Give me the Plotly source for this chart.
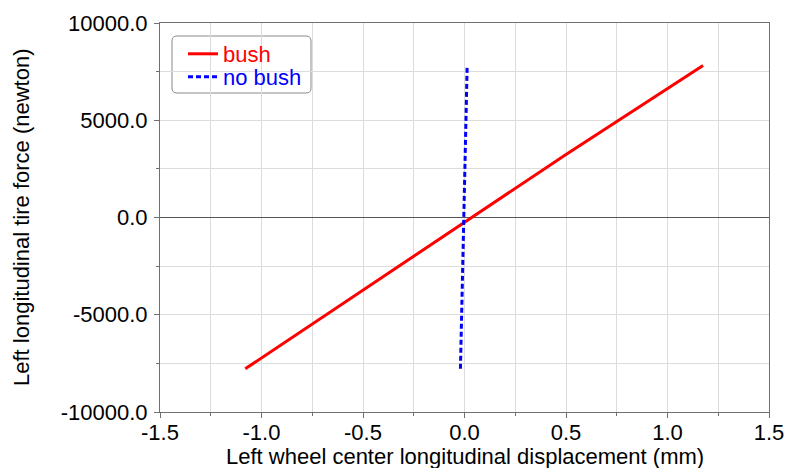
import plotly.graph_objects as go

# Displacement (mm) and longitudinal tire force (N) for the two configurations
bush_x = [-1.08, -0.5, 0.0, 0.5, 1.175]
bush_y = [-7780, -3740, -230, 3240, 7810]

nobush_x = [-0.02, -0.003, 0.013]
nobush_y = [-7780, 0, 7760]

series_names = ["bush", "no bush"]
series_colors = ["#ff0000", "#0000ff"]

x_ticks = [-1.5, -1.0, -0.5, 0.0, 0.5, 1.0, 1.5]
y_ticks = [-10000, -5000, 0, 5000, 10000]

x_title = "Left wheel center longitudinal displacement (mm)"
y_title = "Left longitudinal tire force (newton)"

FONT = "Arial, Liberation Sans, sans-serif"
FS = 22

W, H = 787, 468
ml, mr, mt, mb = 160, 18, 23, 56
pw, ph = W - ml - mr, H - mt - mb


def px_to_paper(px, py):
    """Pixel position on the page -> paper coordinates of the plot area."""
    return (px - ml) / pw, 1 - (py - mt) / ph


fig = go.Figure()
fig.add_trace(go.Scatter(
    x=bush_x, y=bush_y, mode="lines",
    name=f"<span style='color:{series_colors[0]}'>{series_names[0]}</span>",
    line=dict(color=series_colors[0], width=3),
    legend="legend",
))
fig.add_trace(go.Scatter(
    x=nobush_x, y=nobush_y, mode="lines",
    name=f"<span style='color:{series_colors[1]}'>{series_names[1]}</span>",
    line=dict(color=series_colors[1], width=3, dash="5px,3px"),
    legend="legend2",
))

axis_common = dict(
    showline=True, linecolor="#707070", linewidth=1, mirror=True,
    ticks="outside", ticklen=5, tickcolor="#707070",
    showgrid=False, automargin=False,
    tickfont=dict(family=FONT, size=FS, color="#000000"),
)

fig.update_xaxes(
    range=[-1.5, 1.5], tickvals=x_ticks, ticktext=[f"{v:.1f}" for v in x_ticks],
    zeroline=False,
    minor=dict(dtick=0.25, tick0=0, showgrid=True, gridcolor="#dcdcdc", gridwidth=1,
               ticks="outside", ticklen=3, tickcolor="#707070"),
    ticklabelstandoff=-4,
    **axis_common,
)
fig.update_yaxes(
    range=[-10000, 10000], tickvals=y_ticks, ticktext=[f"{v:.1f}" for v in y_ticks],
    zeroline=True, zerolinecolor="#555555", zerolinewidth=1,
    minor=dict(dtick=2500, tick0=0, showgrid=True, gridcolor="#dcdcdc", gridwidth=1,
               ticks="outside", ticklen=3, tickcolor="#707070"),
    ticklabelstandoff=2,
    **axis_common,
)

# Axis titles
tx, ty = px_to_paper(465, 456)
fig.add_annotation(text=x_title, x=tx, y=ty, xref="paper", yref="paper",
                   xanchor="center", yanchor="middle", showarrow=False,
                   font=dict(family=FONT, size=FS, color="#000000"))
tx, ty = px_to_paper(21, 217)
fig.add_annotation(text=y_title, x=tx, y=ty, xref="paper", yref="paper",
                   xanchor="center", yanchor="middle", showarrow=False, textangle=-90,
                   font=dict(family=FONT, size=FS, color="#000000"))

# Rounded frame around the legend entries
bx0, by0 = px_to_paper(172, 36)
bx1, by1 = px_to_paper(311, 93)
rx, ry = 5 / pw, 5 / ph
path = (f"M {bx0+rx},{by0} L {bx1-rx},{by0} Q {bx1},{by0} {bx1},{by0-ry} "
        f"L {bx1},{by1+ry} Q {bx1},{by1} {bx1-rx},{by1} L {bx0+rx},{by1} "
        f"Q {bx0},{by1} {bx0},{by1+ry} L {bx0},{by0-ry} Q {bx0},{by0} {bx0+rx},{by0} Z")
fig.add_shape(type="path", path=path, xref="paper", yref="paper",
              line=dict(color="#8a8a8a", width=1), fillcolor="white", layer="below")

legend_style = dict(xanchor="left", yanchor="middle",
                    bgcolor="rgba(0,0,0,0)", borderwidth=0,
                    font=dict(family=FONT, size=FS), itemwidth=30)
l1x, l1y = px_to_paper(183, 54)
l2x, l2y = px_to_paper(183, 77)

fig.update_layout(
    width=W, height=H,
    margin=dict(l=ml, r=mr, t=mt, b=mb),
    paper_bgcolor="white", plot_bgcolor="white",
    font=dict(family=FONT, size=FS, color="#000000"),
    showlegend=True,
    legend=dict(x=l1x, y=l1y, **legend_style),
    legend2=dict(x=l2x, y=l2y, **legend_style),
)

fig.write_html("out.html")
